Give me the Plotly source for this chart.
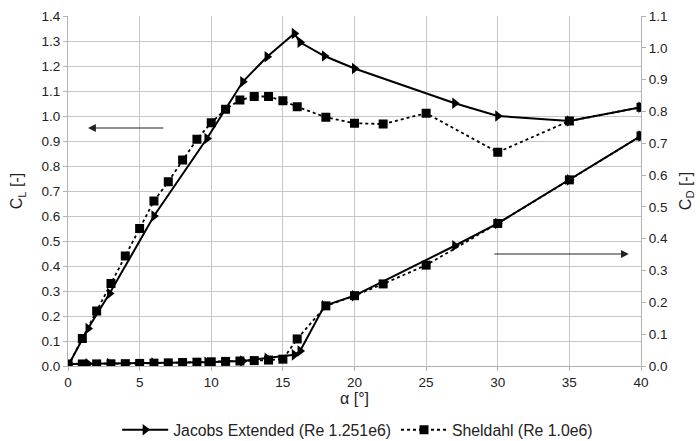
import plotly.graph_objects as go

# Jacobs Extended (Re 1.251e6)
jac_alpha = [0, 1.4, 2.9, 6.0, 9.7, 12.2, 13.9, 15.8, 16.2, 17.9, 20, 27, 30, 35, 40]
jac_cl = [0.0, 0.15, 0.29, 0.60, 0.91, 1.137, 1.237, 1.33, 1.295, 1.24, 1.19, 1.051, 1.0, 0.98, 1.035]
jac_cd = [0.006, 0.007, 0.008, 0.009, 0.012, 0.016, 0.024, 0.035, 0.047, 0.189, 0.221, 0.378, 0.448, 0.585, 0.723]

# Sheldahl (Re 1.0e6)
sh_alpha = [0, 1, 2, 3, 4, 5, 6, 7, 8, 9, 10, 11, 12, 13, 14, 15, 16, 18, 20, 22, 25, 30, 35, 40]
sh_cl = [0.0, 0.11, 0.22, 0.33, 0.44, 0.55, 0.66, 0.737, 0.824, 0.907, 0.973, 1.027,
         1.064, 1.078, 1.078, 1.061, 1.037, 0.995, 0.971, 0.968, 1.011, 0.855, 0.98, 1.035]
sh_cd = [0.0064, 0.0064, 0.0066, 0.0069, 0.0073, 0.0081, 0.0089, 0.0098, 0.0109, 0.012,
         0.0132, 0.0144, 0.0157, 0.017, 0.0187, 0.0215, 0.085, 0.189, 0.221, 0.258,
         0.317, 0.448, 0.585, 0.723]

FONT = "Liberation Sans, Arial, sans-serif"
fig = go.Figure()

jac_line = dict(color="black", width=2)
sh_line = dict(color="black", width=1.8, dash="dot")
jac_marker = dict(symbol="triangle-right", size=10, color="black")
sh_marker = dict(symbol="square", size=9, color="black")

fig.add_trace(go.Scatter(x=jac_alpha, y=jac_cl, mode="lines+markers", line=jac_line,
                         marker=jac_marker, name="Jacobs Extended (Re 1.251e6)",
                         legendgroup="j", yaxis="y"))
fig.add_trace(go.Scatter(x=sh_alpha, y=sh_cl, mode="lines+markers", line=sh_line,
                         marker=sh_marker, name="Sheldahl (Re 1.0e6)",
                         legendgroup="s", yaxis="y"))
fig.add_trace(go.Scatter(x=jac_alpha, y=jac_cd, mode="lines+markers", line=jac_line,
                         marker=jac_marker, name="Jacobs Extended (Re 1.251e6)",
                         legendgroup="j", showlegend=False, yaxis="y2"))
fig.add_trace(go.Scatter(x=sh_alpha, y=sh_cd, mode="lines+markers", line=sh_line,
                         marker=sh_marker, name="Sheldahl (Re 1.0e6)",
                         legendgroup="s", showlegend=False, yaxis="y2"))

# arrows indicating which axis applies
fig.add_annotation(x=1.4, y=0.952, ax=6.77, ay=0.952, xref="x", yref="y",
                   axref="x", ayref="y", showarrow=True, arrowhead=2, arrowsize=1.3,
                   arrowwidth=1.2, arrowcolor="#222", text="")
fig.add_annotation(x=39.15, y=0.448, ax=29.66, ay=0.448, xref="x", yref="y",
                   axref="x", ayref="y", showarrow=True, arrowhead=2, arrowsize=1.3,
                   arrowwidth=1.2, arrowcolor="#222", text="")

grid = "#c6c6c6"
fig.update_layout(
    width=700, height=441,
    margin=dict(l=68, r=59, t=16, b=75, autoexpand=False),
    plot_bgcolor="white", paper_bgcolor="white",
    font=dict(family=FONT, size=13.5, color="#222"),
    xaxis=dict(range=[0, 40], dtick=5, showgrid=True, gridcolor=grid, gridwidth=1,
               showline=True, linecolor="#b3b3b3", linewidth=1, ticks="outside",
               ticklen=4, tickcolor="#b3b3b3", zeroline=False, automargin=False,
               title=dict(text="α [°]", standoff=2)),
    yaxis=dict(range=[0, 1.4], dtick=0.1, tickformat=".1f", showgrid=True,
               gridcolor=grid, gridwidth=1, showline=True, linecolor="#b3b3b3",
               linewidth=1, ticks="outside", ticklen=4, tickcolor="#b3b3b3",
               zeroline=False, automargin=False,
               title=dict(text="C<sub>L</sub> [-]", standoff=14)),
    yaxis2=dict(range=[0, 1.1], dtick=0.1, tickformat=".1f", overlaying="y",
                side="right", showgrid=False, showline=True, linecolor="#b3b3b3",
                linewidth=1, ticks="outside", ticklen=4, tickcolor="#b3b3b3",
                zeroline=False, automargin=False,
                title=dict(text="C<sub>D</sub> [-]", standoff=12)),
    legend=dict(orientation="h", x=0.511, xanchor="center", xref="container",
                y=0.025, yanchor="middle", yref="container",
                font=dict(size=15.8), itemwidth=46, bgcolor="rgba(0,0,0,0)"),
    showlegend=True,
)

fig.write_html("out.html")
